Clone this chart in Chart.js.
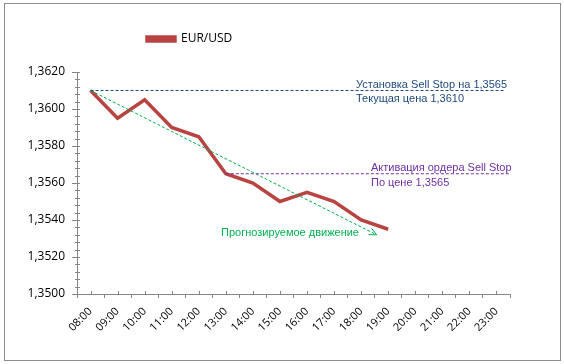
<!DOCTYPE html>
<html>
<head>
<meta charset="utf-8">
<script src="https://cdn.jsdelivr.net/npm/chart.js@4/dist/chart.umd.min.js"></script>
<style>
  body { margin: 0; background: #fff; }
  canvas { display: block; }
</style>
</head>
<body>
<canvas id="myChart" width="564" height="364"></canvas>
<script>
// hours on the x axis
let horas = ["08:00", "09:00", "10:00", "11:00", "12:00", "13:00", "14:00", "15:00",
  "16:00", "17:00", "18:00", "19:00", "20:00", "21:00", "22:00", "23:00"];
// EUR/USD price, one value per hour (only until 19:00)
let eurusd = [1.3610, 1.3595, 1.3605, 1.3590, 1.3585, 1.3565, 1.3560, 1.3550, 1.3555, 1.3550, 1.3540, 1.3535];
// y axis
let y_min = 1.3500;
let y_max = 1.3620;
let y_paso = 0.0020;
let y_menor = 0.0004;

// helper lines, x is the hour index (0 = 08:00)
let linea_actual = [{ x: 0, y: 1.3610 }, { x: 15.3, y: 1.3610 }];
let linea_orden = [{ x: 5, y: 1.3565 }, { x: 15.48, y: 1.3565 }];
let linea_prevision = [{ x: 0, y: 1.3610 }, { x: 10.57, y: 1.3532 }];

const rojo = "#B84442";
const azul = "#1F497D";
const morado = "#7030A0";
const verde = "#00B050";
const eje = "#868686";

function fmt(v) {
  return v.toFixed(4).replace(".", ",");
}

// outer frame
const marco = {
  id: "marco",
  beforeDraw(chart) {
    const ctx = chart.ctx;
    ctx.save();
    ctx.fillStyle = "#fff";
    ctx.fillRect(0, 0, chart.width, chart.height);
    ctx.strokeStyle = "#8c8c8c";
    ctx.lineWidth = 1;
    ctx.strokeRect(4.5, 3.5, 556, 357);
    ctx.restore();
  },
};

// small ticks between the major ones
const menores = {
  id: "menores",
  afterDraw(chart) {
    const ctx = chart.ctx;
    const ys = chart.scales.y;
    const xs = chart.scales.x;
    const area = chart.chartArea;
    ctx.save();
    ctx.strokeStyle = eje;
    ctx.lineWidth = 1;
    ctx.beginPath();
    for (let v = y_min; v <= y_max + 1e-9; v += y_menor) {
      const py = Math.round(ys.getPixelForValue(v)) + 0.5;
      ctx.moveTo(area.left - 2, py);
      ctx.lineTo(area.left + 3, py);
    }
    for (let i = 0; i < horas.length; i++) {
      const px = Math.round(xs.getPixelForValue(i)) + 0.5;
      ctx.moveTo(px, area.bottom - 3);
      ctx.lineTo(px, area.bottom);
    }
    ctx.stroke();
    ctx.restore();
  },
};

// arrow head and the text notes
const notas = {
  id: "notas",
  afterDatasetsDraw(chart) {
    const ctx = chart.ctx;
    const ys = chart.scales.y;
    const pts = chart.getDatasetMeta(3).data;
    const a = pts[pts.length - 2];
    const b = pts[pts.length - 1];
    const ang = Math.atan2(b.y - a.y, b.x - a.x);
    ctx.save();
    ctx.strokeStyle = verde;
    ctx.lineWidth = 1;
    ctx.beginPath();
    ctx.moveTo(b.x - 8 * Math.cos(ang - 0.45), b.y - 8 * Math.sin(ang - 0.45));
    ctx.lineTo(b.x, b.y);
    ctx.lineTo(b.x - 8 * Math.cos(ang + 0.45), b.y - 8 * Math.sin(ang + 0.45));
    ctx.stroke();

    ctx.font = "11px 'Liberation Sans'";
    ctx.textBaseline = "alphabetic";
    ctx.textAlign = "left";
    const y1 = ys.getPixelForValue(1.3610);
    ctx.fillStyle = azul;
    ctx.fillText("Установка Sell Stop на 1,3565", 356, y1 - 3);
    ctx.fillText("Текущая цена 1,3610", 356, y1 + 11);
    const y2 = ys.getPixelForValue(1.3565);
    ctx.fillStyle = morado;
    ctx.fillText("Активация ордера Sell Stop", 371, y2 - 3);
    ctx.fillText("По цене 1,3565", 371, y2 + 12);
    ctx.fillStyle = verde;
    ctx.fillText("Прогнозируемое движение", 221, 236);
    ctx.restore();
  },
};

// move the legend to its place over the plot
const leyenda_pos = {
  id: "leyenda_pos",
  afterLayout(chart) {
    const lg = chart.legend;
    const dx = 137 - lg.left;
    const dy = 23 - lg.top;
    lg.left += dx;
    lg.right += dx;
    lg.top += dy;
    lg.bottom += dy;
  },
};

var my_chart = document.getElementById("myChart");

var datos = {
  labels: horas,
  datasets: [
    {
      label: "EUR/USD",
      data: eurusd,
      xAxisID: "x",
      borderColor: rojo,
      backgroundColor: rojo,
      borderWidth: 3.5,
      pointRadius: 0,
      tension: 0,
      order: 4,
    },
    {
      label: "actual",
      data: linea_actual,
      xAxisID: "xl",
      borderColor: azul,
      borderWidth: 1,
      borderDash: [3, 2],
      pointRadius: 0,
      order: 1,
    },
    {
      label: "orden",
      data: linea_orden,
      xAxisID: "xl",
      borderColor: morado,
      borderWidth: 1,
      borderDash: [3, 2],
      pointRadius: 0,
      order: 2,
    },
    {
      label: "prevision",
      data: linea_prevision,
      xAxisID: "xl",
      borderColor: verde,
      borderWidth: 1,
      borderDash: [3, 2],
      pointRadius: 0,
      order: 3,
    },
  ],
};

var grafica = new Chart(my_chart, {
  type: "line",
  data: datos,
  plugins: [marco, menores, notas, leyenda_pos],
  options: {
    responsive: false,
    devicePixelRatio: 1,
    animation: false,
    layout: {
      padding: { left: 4, top: 72, right: 54, bottom: 4 },
    },
    plugins: {
      legend: {
        position: "chartArea",
        align: "start",
        labels: {
          boxWidth: 28,
          boxHeight: 4,
          padding: 10,
          color: "#000",
          font: { family: "'Open Sans'", size: 12 },
          filter: (item) => item.datasetIndex === 0,
        },
      },
      tooltip: { enabled: false },
    },
    scales: {
      x: {
        type: "category",
        offset: true,
        border: { color: eje },
        grid: {
          offset: true,
          drawOnChartArea: false,
          tickLength: 4,
          color: eje,
        },
        ticks: {
          minRotation: 45,
          maxRotation: 45,
          padding: 7,
          autoSkip: false,
          color: "#000",
          font: { family: "'Open Sans'", size: 11 },
        },
        afterFit(scale) {
          scale.height = 66;
        },
      },
      xl: {
        type: "linear",
        min: -0.5,
        max: 15.5,
        display: false,
      },
      y: {
        min: y_min,
        max: y_max,
        border: { color: eje },
        grid: {
          drawOnChartArea: false,
          tickLength: 5,
          color: eje,
        },
        ticks: {
          stepSize: y_paso,
          padding: 7,
          color: "#000",
          font: { family: "'Open Sans'", size: 12 },
          callback: (v) => fmt(v),
        },
        afterFit(scale) {
          scale.width = 73;
        },
      },
    },
  },
});
</script>
</body>
</html>
